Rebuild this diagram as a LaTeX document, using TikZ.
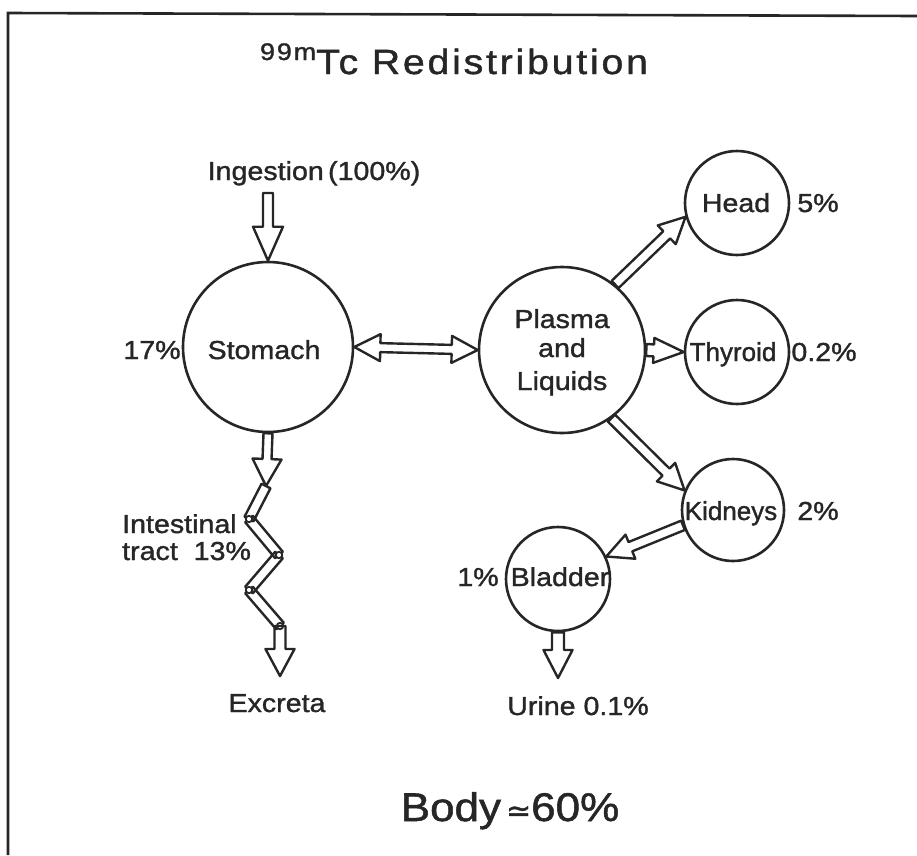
\documentclass[tikz,border=0pt]{standalone}
\usepackage{fontspec}
\setmainfont{Liberation Sans}
\newfontfamily\lab[FakeStretch=1.1,FakeBold=1.3]{Liberation Sans}
\newfontfamily\labn[FakeBold=1.3]{Liberation Sans}
\newfontfamily\ttl[FakeStretch=1.12,LetterSpace=8,FakeBold=1.3]{Liberation Sans}
\newfontfamily\sym[FakeBold=1.3]{DejaVu Sans}
\usetikzlibrary{calc}

\tikzset{
  ln/.style={line width=2.4pt, line join=round, draw=black!85},
  circ/.style={draw=black!85, circle, inner sep=0pt, line width=2.6pt},
  txt/.style={inner sep=0pt, anchor=base, text=black!85, font=\lab\fontsize{26}{31}\selectfont},
  txtn/.style={inner sep=0pt, anchor=base, text=black!85, font=\labn\fontsize{26}{31}\selectfont},
}

% single block arrow: start, end, shaft half-width, head half-width, head length
\newcommand\blockarr[5]{%
  \coordinate (ba) at #1; \coordinate (bb) at #2;
  \coordinate (bh) at ($(bb)!#5!(ba)$);
  \draw[ln] ($(ba)!#3!90:(bb)$) -- ($(bh)!#3!90:(bb)$) -- ($(bh)!#4!90:(bb)$) -- (bb)
    -- ($(bh)!#4!-90:(bb)$) -- ($(bh)!#3!-90:(bb)$) -- ($(ba)!#3!-90:(bb)$) -- cycle;
}
% double block arrow
\newcommand\dblarr[5]{%
  \coordinate (ba) at #1; \coordinate (bb) at #2;
  \coordinate (h1) at ($(ba)!#5!(bb)$); \coordinate (h2) at ($(bb)!#5!(ba)$);
  \draw[ln] (ba) -- ($(h1)!#4!90:(bb)$) -- ($(h1)!#3!90:(bb)$) -- ($(h2)!#3!90:(bb)$)
    -- ($(h2)!#4!90:(bb)$) -- (bb) -- ($(h2)!#4!-90:(bb)$) -- ($(h2)!#3!-90:(bb)$)
    -- ($(h1)!#3!-90:(bb)$) -- ($(h1)!#4!-90:(bb)$) -- cycle;
}
% tube segment of the intestinal tract
\newcommand\tube[2]{%
  \draw[ln] ($#1!5pt!90:#2$) -- ($#2!5pt!-90:#1$) -- ($#2!5pt!90:#1$) -- ($#1!5pt!-90:#2$) -- cycle;
}

\begin{document}
\begin{tikzpicture}[x=1pt,y=-1pt]
\useasboundingbox (0,0) rectangle (917,855);

% frame
\draw[line width=2.6pt, black!85] (8,855) -- (8,13) -- (917,16);

% title
\node[inner sep=0pt, anchor=base, text=black!85, font=\ttl\fontsize{35}{40}\selectfont] (title) at (454,74)
  {\raisebox{14pt}{\fontsize{24}{24}\selectfont 99m}Tc Redistribution};

% compartments
\node[circ, minimum size=170pt] (stomach) at (268,347) {};
\node[circ, minimum size=166pt] (plasma) at (562,350) {};
\node[circ, minimum size=104pt] (head) at (737,203) {};
\node[circ, minimum size=104pt] (thyroid) at (737,352) {};
\node[circ, minimum size=102pt] (kidneys) at (733,510) {};
\node[circ, minimum size=104pt] (bladder) at (558,579) {};

% labels
\node[txt] (ingl) at (314,180) {Ingestion\,(100\%)};
\node[txt] (p17) at (152,359) {17\%};
\node[txt] (stoml) at (264,359) {Stomach};
\node[txt] (plas1) at (562,328) {Plasma};
\node[txt] (plas2) at (562,357) {and};
\node[txt] (plas3) at (562,390) {Liquids};
\node[txt] (headl) at (736,212) {Head};
\node[txt] (p5) at (818,212) {5\%};
\node[txtn] (thyl) at (733,361) {Thyroid};
\node[txt] (p02) at (824,361) {0.2\%};
\node[txtn] (kidl) at (731,520) {Kidneys};
\node[txt] (p2) at (818,520) {2\%};
\node[txt] (bladl) at (560,586) {Bladder};
\node[txt] (p1) at (478,586) {1\%};
\node[txt, anchor=base west] (int1) at (122,533) {Intestinal};
\node[txt, anchor=base west] (int2) at (122,560) {tract\ \ 13\%};
\node[txt] (excl) at (277,712) {Excreta};
\node[txt] (urinel) at (578,715) {Urine 0.1\%};
\node[inner sep=0pt, anchor=base, text=black!85, font=\lab\fontsize{40}{46}\selectfont] (body) at (510,821)
  {Body{\sym\fontsize{30}{30}\selectfont\,≃}60\%};

% ingestion arrow
\coordinate (ingtop) at (268,193);
\blockarr{(ingtop)}{(stomach.north)}{5pt}{15pt}{34pt}

% stomach down to intestine
\coordinate (j0) at (266,486);
\coordinate (j1) at (249,519);
\coordinate (j2) at (279,555);
\coordinate (j3) at (249,590);
\coordinate (j4) at (280,626);
\coordinate (exc) at (280,676);
\blockarr{(stomach.south)}{(j0)}{4.5pt}{14.5pt}{27pt}
\tube{(j0)}{(j1)}
\tube{(j1)}{(j2)}
\tube{(j2)}{(j3)}
\tube{(j3)}{(j4)}
\foreach \j in {j1,j2,j3,j4} \draw[line width=1.8pt, black!85, fill=white] (\j) circle (3.2pt);
\blockarr{(j4)}{(exc)}{5.5pt}{14.5pt}{27pt}

% stomach <-> plasma
\dblarr{(stomach.east)}{(plasma.west)}{4.5pt}{13.5pt}{26pt}

% plasma to organs
\blockarr{(plasma.51)}{(head.195)}{5pt}{13pt}{26pt}
\blockarr{(plasma.east)}{(thyroid.west)}{6pt}{12.5pt}{30pt}
\blockarr{(plasma.306)}{(kidneys.158)}{5pt}{13pt}{26pt}
\blockarr{(kidneys.197)}{(bladder.25)}{5pt}{13pt}{26pt}

% bladder to urine
\coordinate (uri) at (558,678);
\blockarr{(bladder.south)}{(uri)}{6pt}{14.5pt}{28pt}
\end{tikzpicture}
\end{document}
